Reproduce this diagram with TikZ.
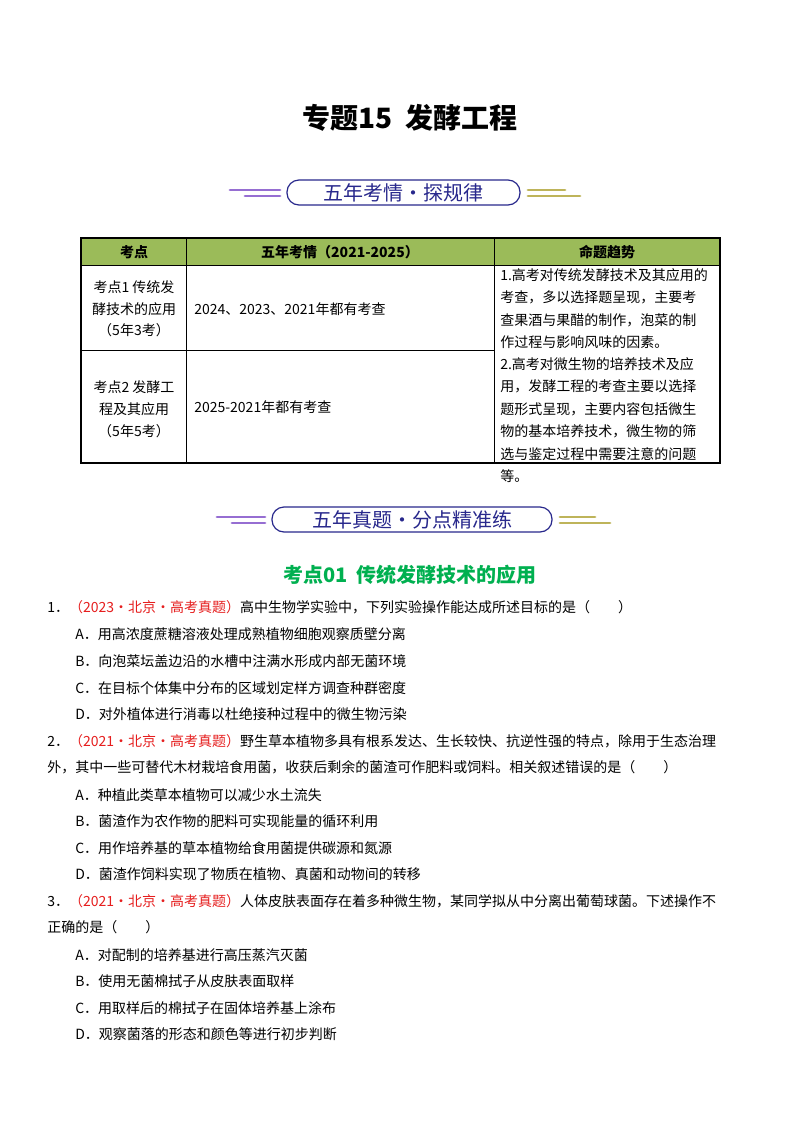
\documentclass[tikz,border=0pt]{standalone}
\usepackage{fontspec}
\setmainfont{Liberation Serif}
\newfontfamily\cjk{Noto Sans CJK SC}
\definecolor{hdr}{RGB}{155,187,89}
\definecolor{ban}{RGB}{40,40,140}
\definecolor{lpur}{RGB}{150,110,210}
\definecolor{lyel}{RGB}{190,180,90}
\definecolor{sec}{RGB}{0,176,80}
\definecolor{red1}{RGB}{230,30,30}
\begin{document}
\begin{tikzpicture}[x=0.75pt,y=-0.75pt,
  t/.style={anchor=west,inner sep=0pt,font=\fontsize{10.5pt}{12pt}\selectfont\cjk},
  c/.style={anchor=center,inner sep=0pt,font=\fontsize{10.5pt}{12pt}\selectfont\cjk},
  bx/.style={draw=ban,line width=0.9pt,rounded corners=9pt,inner sep=0pt},
  bt/.style={font=\fontsize{15pt}{16pt}\selectfont\cjk,text=ban},
  lp/.style={line width=2.2pt,draw=lpur,line cap=round},
  ly/.style={line width=2.2pt,draw=lyel,line cap=round}]
\useasboundingbox (0,0) rectangle (800,1132);
\fill[white] (0,0) rectangle (800,1132);
\node[font=\fontsize{21pt}{24pt}\selectfont\bfseries\cjk] (title) at (410,118) {专题15\ \ 发酵工程};
% banner 1
\draw[bx] (287,180) rectangle (520,205);
\node[bt] (b1) at (403,193) {五年考情·探规律};
\draw[lp] (230,190)--(280,190); \draw[lp] (245,196)--(280,196);
\draw[ly] (528,190)--(565,190); \draw[ly] (528,196)--(580,196);
% table
\fill[hdr] (81,238) rectangle (720,265);
\draw[line width=0.8pt] (81,238) rectangle (720,463);
\draw (81,265)--(720,265) (186,238)--(186,463) (494,238)--(494,463) (81,350)--(494,350);
\node[c,font=\fontsize{10.5pt}{12pt}\selectfont\bfseries\cjk] (h1) at (134,252) {考点};
\node[c,font=\fontsize{10.5pt}{12pt}\selectfont\bfseries\cjk] (h2) at (340,252) {五年考情（2021-2025）};
\node[c,font=\fontsize{10.5pt}{12pt}\selectfont\bfseries\cjk] (h3) at (607,252) {命题趋势};
\node[c] (r1a) at (134,287) {考点1 传统发};
\node[c] (r1b) at (134,309) {酵技术的应用};
\node[c] (r1c) at (134,330) {（5年3考）};
\node[c] (r2a) at (134,387) {考点2 发酵工};
\node[c] (r2b) at (134,409) {程及其应用};
\node[c] (r2c) at (134,431) {（5年5考）};
\node[t] (y1) at (194,309) {2024、2023、2021年都有考查};
\node[t] (y2) at (194,407) {2025-2021年都有考查};
\foreach \s [count=\i] in {1.高考对传统发酵技术及其应用的,考查，多以选择题呈现，主要考,查果酒与果醋的制作，泡菜的制,作过程与影响风味的因素。,2.高考对微生物的培养技术及应,用，发酵工程的考查主要以选择,题形式呈现，主要内容包括微生,物的基本培养技术，微生物的筛,选与鉴定过程中需要注意的问题,等。}
  \node[t] (q\i) at (500,{253+22.3*\i}) {\s};
% banner 2
\draw[bx] (272,507) rectangle (552,532);
\node[bt] (b2) at (412,520) {五年真题·分点精准练};
\draw[lp] (217,517)--(265,517); \draw[lp] (232,523)--(265,523);
\draw[ly] (560,517)--(595,517); \draw[ly] (560,523)--(610,523);
\node[font=\fontsize{15pt}{18pt}\selectfont\bfseries\cjk,text=sec] (sh) at (410,575) {考点01\ \ 传统发酵技术的应用};
% questions
\node[t] (n1) at (47,607) {1．\textcolor{red1}{（2023·北京·高考真题）}高中生物学实验中，下列实验操作能达成所述目标的是（\qquad）};
\node[t] (a1) at (75,634) {A．用高浓度蔗糖溶液处理成熟植物细胞观察质壁分离};
\node[t] (b1o) at (75,661) {B．向泡菜坛盖边沿的水槽中注满水形成内部无菌环境};
\node[t] (c1) at (75,688) {C．在目标个体集中分布的区域划定样方调查种群密度};
\node[t] (d1) at (75,714) {D．对外植体进行消毒以杜绝接种过程中的微生物污染};
\node[t] (n2) at (47,741) {2．\textcolor{red1}{（2021·北京·高考真题）}野生草本植物多具有根系发达、生长较快、抗逆性强的特点，除用于生态治理};
\node[t] (n2b) at (47,767) {外，其中一些可替代木材栽培食用菌，收获后剩余的菌渣可作肥料或饲料。相关叙述错误的是（\qquad）};
\node[t] (a2) at (75,795) {A．种植此类草本植物可以减少水土流失};
\node[t] (b2o) at (75,821) {B．菌渣作为农作物的肥料可实现能量的循环利用};
\node[t] (c2) at (75,848) {C．用作培养基的草本植物给食用菌提供碳源和氮源};
\node[t] (d2) at (75,874) {D．菌渣作饲料实现了物质在植物、真菌和动物间的转移};
\node[t] (n3) at (47,901) {3．\textcolor{red1}{（2021·北京·高考真题）}人体皮肤表面存在着多种微生物，某同学拟从中分离出葡萄球菌。下述操作不};
\node[t] (n3b) at (47,927) {正确的是（\qquad）};
\node[t] (a3) at (75,955) {A．对配制的培养基进行高压蒸汽灭菌};
\node[t] (b3) at (75,981) {B．使用无菌棉拭子从皮肤表面取样};
\node[t] (c3) at (75,1008) {C．用取样后的棉拭子在固体培养基上涂布};
\node[t] (d3) at (75,1034) {D．观察菌落的形态和颜色等进行初步判断};
\end{tikzpicture}
\end{document}
